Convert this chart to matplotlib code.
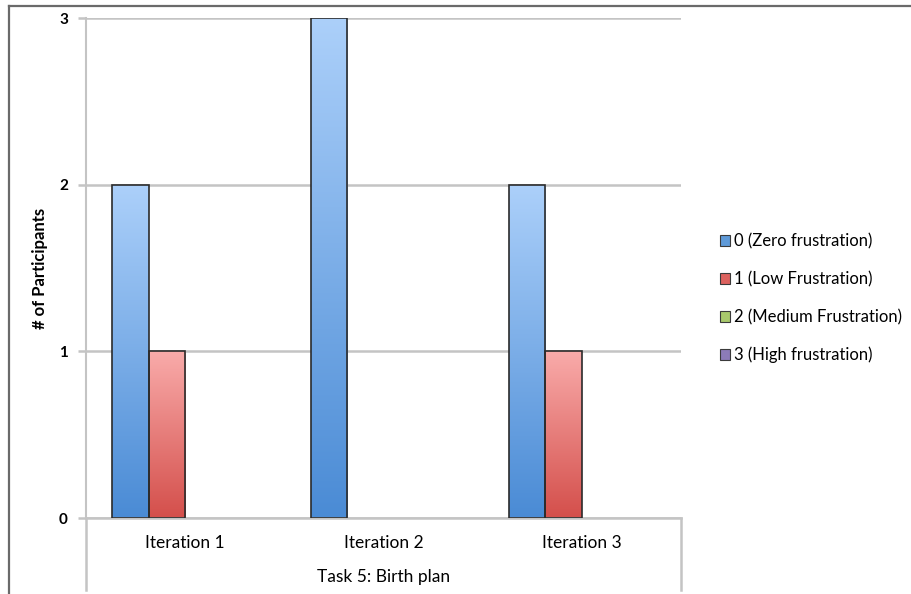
import matplotlib

matplotlib.use("Agg")
import matplotlib.pyplot as plt
import numpy as np
from matplotlib.colors import LinearSegmentedColormap
from matplotlib.lines import Line2D
from matplotlib.patches import Patch

plt.rcParams["font.family"] = ["Lato", "DejaVu Sans"]

categories = ["Iteration 1", "Iteration 2", "Iteration 3"]
series_names = [
    "0 (Zero frustration)",
    "1 (Low Frustration)",
    "2 (Medium Frustration)",
    "3 (High frustration)",
]
zero_frustration = [2, 3, 2]
low_frustration = [1, 0, 1]
medium_frustration = [0, 0, 0]
high_frustration = [0, 0, 0]
series_values = [zero_frustration, low_frustration, medium_frustration, high_frustration]

# (light top, dark bottom) for each series gradient
GRADIENTS = [
    ("#acd0fa", "#4a8bd5"),
    ("#f9abaa", "#d44f4b"),
    ("#d6e8a8", "#8fb24c"),
    ("#c2b4de", "#7560a3"),
]
LEGEND_COLORS = ["#5f9ad8", "#dc625e", "#a9c96c", "#8c7bb8"]
GRID = "#c4c4c4"

fig = plt.figure(figsize=(9.11, 5.94), dpi=100)
ax = fig.add_axes([86 / 911, 1 - 518 / 594, 595 / 911, 500 / 594])

x = np.arange(len(categories))
width = 0.184
offsets = (np.arange(len(series_values)) - 1.5) * width
gradient = np.linspace(0, 1, 256).reshape(-1, 1)

for values, offset, (light, dark) in zip(series_values, offsets, GRADIENTS):
    cmap = LinearSegmentedColormap.from_list("bar", [dark, light])
    bars = ax.bar(x + offset, values, width, color="none",
                  edgecolor="#2b2b2b", linewidth=1.2, zorder=3)
    for bar, value in zip(bars, values):
        if value == 0:
            bar.set_linewidth(0)
            continue
        x0, y0 = bar.get_x(), bar.get_y()
        img = ax.imshow(gradient, cmap=cmap, origin="lower", aspect="auto",
                        extent=(x0, x0 + bar.get_width(), y0, y0 + value),
                        zorder=2)
        img.set_clip_path(bar)

ax.set_xlim(-0.5, len(categories) - 0.5)
ax.set_ylim(0, 3)
ax.set_yticks([0, 1, 2, 3])
ax.set_xticks(x)
ax.set_xticklabels(categories, fontsize=12.5)
ax.tick_params(axis="x", length=0, pad=12)
ax.tick_params(axis="y", length=6, width=1.8, color=GRID, pad=7, labelsize=11)
for label in ax.get_yticklabels():
    label.set_fontweight("bold")

ax.grid(axis="y", color=GRID, linewidth=1.8, zorder=0)
ax.set_axisbelow(True)
for side in ("top", "right"):
    ax.spines[side].set_visible(False)
ax.spines["left"].set_color(GRID)
ax.spines["left"].set_linewidth(1.5)
ax.spines["bottom"].set_color(GRID)
ax.spines["bottom"].set_linewidth(1.8)

ax.set_ylabel("# of Participants", fontsize=12, fontweight="bold", labelpad=8)

# category axis box below the plot
for xpos in (86, 681):
    fig.add_artist(Line2D([xpos / 911] * 2, [1 - 518 / 594, 1 - 590 / 594],
                          color=GRID, linewidth=1.8))
fig.text((86 + 681) / 2 / 911, 1 - 577 / 594, "Task 5: Birth plan",
         ha="center", va="center", fontsize=12.5)

# outer frame
fig.add_artist(Line2D([9 / 911, 1], [1 - 6 / 594] * 2, color="#6a6a6a", linewidth=1.6))
fig.add_artist(Line2D([9 / 911] * 2, [1 - 6 / 594, 0], color="#6a6a6a", linewidth=1.6))

handles = [Patch(facecolor=c, edgecolor="#3a3a3a", linewidth=0.8) for c in LEGEND_COLORS]
fig.legend(handles, series_names, loc="center left",
           bbox_to_anchor=(712 / 911, 1 - 298.5 / 594), frameon=False,
           fontsize=12, handlelength=0.6, handleheight=0.6, handletextpad=0.25,
           labelspacing=1.3, borderpad=0)

fig.savefig("out.png", dpi=100)
